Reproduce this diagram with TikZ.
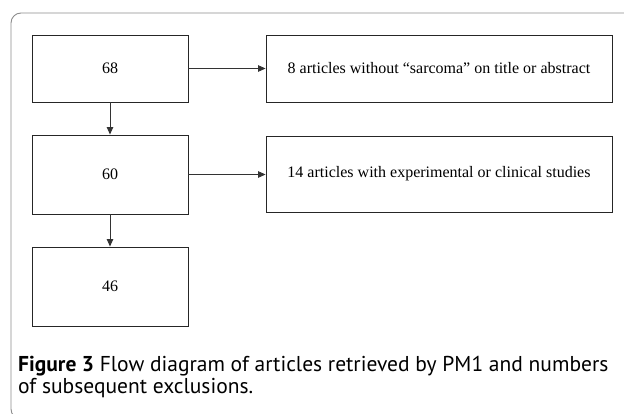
\documentclass[tikz,border=0pt]{standalone}
\usepackage{fontspec}
\setmainfont{Liberation Serif}
\newfontfamily\capfont{PT Sans}
\usetikzlibrary{arrows.meta}
\begin{document}
\begin{tikzpicture}[x=1pt,y=-1pt,
  box/.style={draw=black!85, line width=0.9pt, minimum width=156pt, inner sep=0pt, font=\fontsize{16}{18}\selectfont},
  wbox/.style={box, minimum width=346pt},
  conn/.style={draw=black!80, line width=0.9pt, -{Triangle[length=7.5pt,width=6.5pt]}},
  frame/.style={draw=black!45, line width=0.9pt, rounded corners=10pt}]
\useasboundingbox (0,0) rectangle (624,414);
\begin{scope}
\clip (0,0) rectangle (624,414);
\draw[frame] (11,13) rectangle (660,419);
\end{scope}
\node[box, minimum height=67pt] (b68) at (110,68.5) {68};
\node[wbox, minimum height=67pt] (r1) at (439,68.5) {8 articles without “sarcoma” on title or abstract};
\node[box, minimum height=79pt] (b60) at (110,174.5) {60};
\node[wbox, minimum height=76pt] (r2) at (439,174) {14 articles with experimental or clinical studies};
\node[box, minimum height=79pt] (b46) at (110,286.5) {46};
\draw[conn] (b68.south) -- (b60.north);
\draw[conn] (b60.south) -- (b46.north);
\draw[conn] (b68.east) -- (r1.west);
\draw[conn] (b60.east) -- (b60.east -| r2.west);
\node[anchor=north west, align=left, inner sep=0pt, font=\capfont\fontsize{21.5}{22}\selectfont] (cap) at (18,356)
  {\textbf{Figure 3} Flow diagram of articles retrieved by PM1 and numbers\\ of subsequent exclusions.};
\end{tikzpicture}
\end{document}
